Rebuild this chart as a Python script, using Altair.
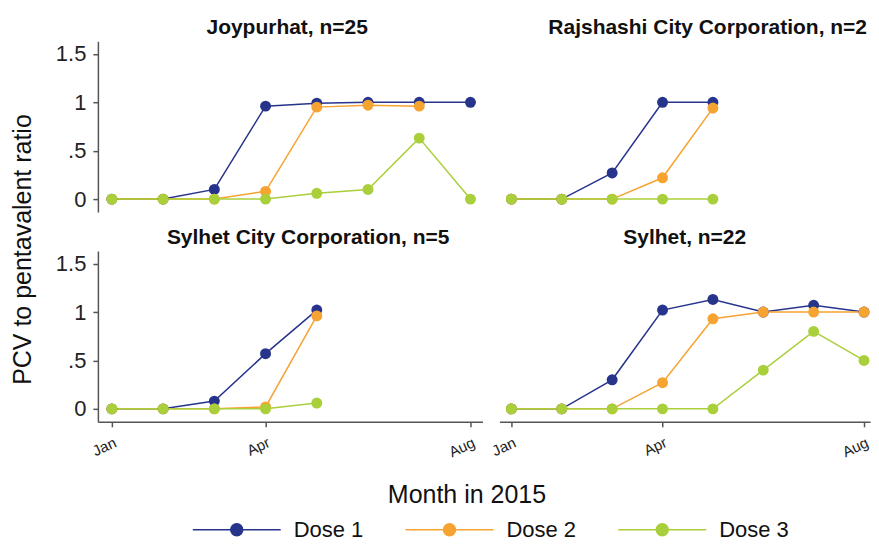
import altair as alt
import pandas as pd

months = ["Jan", "Feb", "Mar", "Apr", "May", "Jun", "Jul", "Aug"]
month_num = [1, 2, 3, 4, 5, 6, 7, 8]
doses = ["Dose 1", "Dose 2", "Dose 3"]
dose_colors = ["#27348b", "#f6a331", "#a9cf3b"]

districts = ["Joypurhat", "Rajshashi City Corporation", "Sylhet City Corporation", "Sylhet"]
panel_titles = ["Joypurhat, n=25", "Rajshashi City Corporation, n=2",
                "Sylhet City Corporation, n=5", "Sylhet, n=22"]

joy_d1 = [0, 0, 0.10, 0.96, 0.99, 1.00, 1.00, 1.00]
joy_d2 = [0, 0, 0, 0.08, 0.95, 0.97, 0.96, None]
joy_d3 = [0, 0, 0, 0, 0.06, 0.10, 0.63, 0]
raj_d1 = [0, 0, 0.27, 1.00, 1.00]
raj_d2 = [0, 0, 0, 0.22, 0.94]
raj_d3 = [0, 0, 0, 0, 0]
scc_d1 = [0, 0, 0.08, 0.57, 1.02]
scc_d2 = [0, 0, 0, 0.02, 0.96]
scc_d3 = [0, 0, 0, 0, 0.06]
syl_d1 = [0, 0, 0.30, 1.02, 1.13, 1.00, 1.07, 1.00]
syl_d2 = [0, 0, 0, 0.27, 0.93, 1.00, 1.00, 1.00]
syl_d3 = [0, 0, 0, 0, 0, 0.40, 0.80, 0.50]

series = {
    "Joypurhat": [joy_d1, joy_d2, joy_d3],
    "Rajshashi City Corporation": [raj_d1, raj_d2, raj_d3],
    "Sylhet City Corporation": [scc_d1, scc_d2, scc_d3],
    "Sylhet": [syl_d1, syl_d2, syl_d3],
}

rows = []
for dist in districts:
    for dose, vals in zip(doses, series[dist]):
        for m, v in zip(month_num, vals):
            if v is not None:
                rows.append({"district": dist, "dose": dose, "month": m, "ratio": v})
df = pd.DataFrame(rows)

FONT = "Liberation Sans"
AX = "#555555"

month_label_expr = "{1:'Jan',4:'Apr',8:'Aug'}[datum.value]"

legend_path = ("M-1,0L7.8,0M4,0A0.6,0.6,0,1,1,2.8,0"
               "A0.6,0.6,0,1,1,4,0Z")


def panel(idx, show_x, show_y, width, xdom, dx):
    dist = districts[idx]
    base = alt.Chart(df).transform_filter(alt.datum.district == dist)
    if show_x:
        xaxis = alt.Axis(values=[1, 4, 8], labelExpr=month_label_expr, labelAngle=335,
                         labelAlign="right", labelBaseline="top", labelFontSize=15,
                         labelPadding=8, tickSize=5, grid=False,
                         title="Month in 2015" if idx == 2 else None,
                         titleFontSize=25, titleFontWeight="normal", titleX=369, titleY=61,
                         titleBaseline="top")
    else:
        xaxis = None
    if show_y:
        yaxis = alt.Axis(values=[0, 0.5, 1, 1.5],
                         labelExpr="datum.value == 0.5 ? '.5' : toString(datum.value)",
                         labelFontSize=22, labelPadding=7, tickSize=5, grid=False,
                         title="PCV to pentavalent ratio" if idx == 0 else None,
                         titleFontSize=25, titleFontWeight="normal",
                         titleX=-62, titleY=208)
    else:
        yaxis = None
    x = alt.X("month:Q", scale=alt.Scale(domain=xdom, nice=False, zero=False), axis=xaxis)
    y = alt.Y("ratio:Q", scale=alt.Scale(domain=[-0.134, 1.63], nice=False, zero=False),
              axis=yaxis)
    color = alt.Color("dose:N", scale=alt.Scale(domain=doses, range=dose_colors),
                      legend=alt.Legend(title=None, orient="none", direction="horizontal",
                                        legendX=94, legendY=478,
                                        symbolType=legend_path, symbolSize=400,
                                        symbolStrokeWidth=1.5, labelFontSize=22,
                                        labelOffset=80, columnPadding=39,
                                        symbolOpacity=1))
    line = base.mark_line(strokeWidth=1.5).encode(x=x, y=y, color=color)
    pts = base.mark_point(filled=True, size=120, opacity=1).encode(x=x, y=y, color=color)
    return (line + pts).properties(
        width=width, height=171,
        title=alt.TitleParams(panel_titles[idx], fontSize=21, fontWeight="bold",
                              dx=dx, offset=3, color="#111111"))


chart = alt.concat(
    panel(0, False, True, 385, [0.727, 8.234], -3),
    panel(1, False, False, 371, [0.762, 8.119], 23),
    panel(2, True, True, 385, [0.727, 8.234], 18),
    panel(3, True, False, 371, [0.762, 8.119], 0),
    columns=2,
    spacing={"row": 39, "column": 17},
    bounds="flush",
).properties(padding={"left": 3, "top": 9, "right": 0, "bottom": 0}).configure(
    font=FONT
).configure_axis(
    domainColor=AX, domainWidth=1.5, tickColor=AX, tickWidth=1.5,
    labelColor="#222222", titleColor="#111111", labelFont=FONT, titleFont=FONT
).configure_legend(labelColor="#111111", labelFont=FONT).configure_view(stroke=None)

chart.save("out.html", embed_options={"renderer": "svg", "actions": False})
